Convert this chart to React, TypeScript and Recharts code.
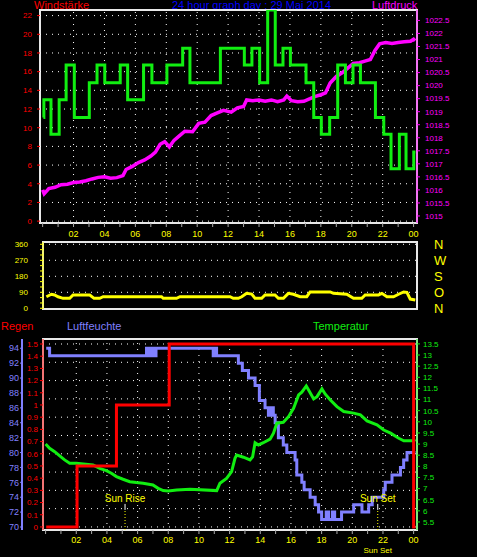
import React from "react";
import { ComposedChart, Line, XAxis, YAxis, ReferenceLine, ReferenceArea } from "recharts";

// hours of the day, labels on even hours only
const hourTicks = [0, 1, 2, 3, 4, 5, 6, 7, 8, 9, 10, 11, 12, 13, 14, 15, 16, 17, 18, 19, 20, 21, 22, 23, 24];
const gridHours = [2, 4, 6, 8, 10, 12, 14, 16, 18, 20, 22];

// Windstärke (green step line)
const windTimes = [0.05, 0.08, 0.54, 1.07, 1.52, 2.05, 3.02, 3.52, 4.02, 5.02, 5.5, 6.53, 7.07, 8.04, 9.06, 9.53, 11.5, 13.05, 13.54, 14.04, 14.56, 15.05, 15.55, 16.03, 17.04, 17.54, 18.03, 18.57, 19.09, 19.59, 20.08, 20.56, 21.53, 22.07, 22.54, 23.08, 23.51, 24.01, 24.12];
const windSpeed = [11.1, 13.0, 9.3, 13.0, 16.7, 11.1, 14.8, 16.7, 14.8, 16.7, 13.0, 16.7, 14.8, 16.7, 18.5, 14.8, 18.5, 16.7, 18.5, 14.8, 22.6, 16.7, 18.5, 16.7, 14.8, 11.1, 9.3, 11.1, 16.7, 14.8, 16.7, 14.8, 11.1, 9.3, 5.6, 9.3, 5.6, 7.4, 7.4];
const windTicks = [0, 2, 4, 6, 8, 10, 12, 14, 16, 18, 20, 22];

// Luftdruck (magenta)
const pressureTimes = [0.0, 0.1, 0.4, 0.8, 1.2, 1.6, 2.0, 2.4, 2.8, 3.2, 3.6, 4.0, 4.4, 4.8, 5.2, 5.4, 5.8, 6.2, 6.6, 7.0, 7.3, 7.6, 7.9, 8.2, 8.5, 8.9, 9.2, 9.7, 10.1, 10.5, 10.9, 11.3, 11.7, 12.2, 12.6, 13.0, 13.2, 13.6, 14.0, 14.4, 14.8, 15.2, 15.6, 15.8, 16.1, 16.5, 16.9, 17.3, 17.6, 18.0, 18.3, 18.6, 19.0, 19.4, 19.7, 20.1, 20.5, 20.9, 21.2, 21.5, 21.8, 22.2, 22.6, 23.0, 23.4, 23.8, 24.0, 24.1];
const pressure = [1016.0, 1015.85, 1016.05, 1016.1, 1016.2, 1016.22, 1016.28, 1016.3, 1016.35, 1016.42, 1016.48, 1016.5, 1016.45, 1016.47, 1016.55, 1016.78, 1016.9, 1017.05, 1017.15, 1017.3, 1017.45, 1017.75, 1017.85, 1017.65, 1017.9, 1018.1, 1018.25, 1018.23, 1018.55, 1018.6, 1018.85, 1018.95, 1019.05, 1018.98, 1019.15, 1019.2, 1019.45, 1019.42, 1019.45, 1019.4, 1019.45, 1019.38, 1019.45, 1019.6, 1019.42, 1019.38, 1019.4, 1019.5, 1019.58, 1019.65, 1019.72, 1020.1, 1020.35, 1020.5, 1020.65, 1020.85, 1020.88, 1020.95, 1021.0, 1021.35, 1021.6, 1021.65, 1021.62, 1021.65, 1021.68, 1021.7, 1021.78, 1021.72];
const pressureTicks = [1015, 1015.5, 1016, 1016.5, 1017, 1017.5, 1018, 1018.5, 1019, 1019.5, 1020, 1020.5, 1021, 1021.5, 1022, 1022.5];

// Windrichtung (yellow)
const dirTimes = [0.05, 0.38, 0.59, 0.81, 1.14, 1.57, 1.79, 2.88, 3.16, 3.53, 3.75, 7.56, 7.67, 8.54, 8.76, 12.03, 12.24, 12.57, 12.79, 13.11, 13.44, 13.66, 14.09, 14.31, 14.96, 15.18, 15.51, 15.83, 16.16, 16.6, 17.03, 17.25, 18.56, 18.77, 19.64, 20.08, 20.62, 20.84, 21.71, 21.93, 22.26, 22.69, 23.02, 23.35, 23.56, 23.78, 24.11];
const direction = [65, 79, 75, 65, 56, 56, 75, 75, 56, 56, 65, 65, 56, 56, 65, 65, 56, 56, 65, 84, 80, 56, 56, 75, 75, 56, 56, 84, 79, 65, 65, 92, 92, 84, 79, 56, 56, 75, 75, 84, 65, 65, 79, 92, 90, 52, 47];
const dirTicks = [0, 90, 180, 270, 360];
const dirMinorTicks = [0, 30, 60, 90, 120, 150, 180, 210, 240, 270, 300, 330, 360];
const compass = ["N", "O", "S", "W", "N"];

// Luftfeuchte (blue step line)
const humTimes = [0.04, 0.26, 6.58, 6.75, 6.9, 7.05, 7.2, 7.45, 10.93, 11.05, 11.15, 12.57, 12.83, 13.23, 13.66, 13.94, 14.31, 14.53, 14.7, 14.85, 14.97, 15.18, 15.5, 15.73, 16.27, 16.38, 16.71, 16.86, 17.25, 17.58, 17.8, 18.0, 18.3, 18.45, 18.7, 18.85, 19.3, 20.09, 20.63, 21.07, 21.3, 22.05, 22.15, 22.59, 23.14, 23.35, 23.57, 24.12];
const humidity = [94, 93, 94, 93, 94, 93, 94, 94, 93, 94, 93, 92, 91, 90, 89, 87, 86, 85, 86, 85, 84, 82, 81, 80, 79, 77, 76, 75, 74, 73, 72, 71, 72, 71, 72, 71, 72, 73, 72, 73, 74, 75, 76, 77, 78, 79, 80, 80];
const humTicks = [70, 72, 74, 76, 78, 80, 82, 84, 86, 88, 90, 92, 94];

// Regen (red step line)
const rainTimes = [0.04, 2.05, 4.62, 8.06, 24.0, 24.12];
const rain = [0, 0.5, 1.0, 1.5, 0, 0];
const rainTicks = [0, 0.1, 0.2, 0.3, 0.4, 0.5, 0.6, 0.7, 0.8, 0.9, 1, 1.1, 1.2, 1.3, 1.4, 1.5];
const rainGrid = [0, 0.15, 0.3, 0.45, 0.6, 0.75, 0.9, 1.05, 1.2, 1.35, 1.5];

// Temperatur (green)
const tempTimes = [0.0, 0.26, 0.59, 0.92, 1.24, 1.57, 2.0, 3.09, 3.53, 3.96, 4.29, 4.62, 5.05, 5.49, 5.92, 6.36, 7.0, 7.34, 7.67, 8.0, 8.55, 9.41, 11.16, 11.37, 11.8, 12.13, 12.35, 12.46, 12.9, 13.33, 13.5, 13.66, 13.88, 14.2, 14.64, 14.86, 15.08, 15.5, 15.84, 16.17, 16.5, 16.71, 17.0, 17.15, 17.48, 17.7, 18.02, 18.24, 18.57, 19.0, 19.44, 20.09, 20.53, 20.96, 21.61, 22.05, 22.5, 23.03, 23.36, 24.01, 24.12];
const temperature = [9.0, 8.81, 8.66, 8.47, 8.29, 8.14, 8.14, 8.06, 7.91, 7.81, 7.69, 7.54, 7.42, 7.31, 7.27, 7.24, 7.16, 7.01, 6.91, 6.89, 6.94, 6.97, 6.91, 7.24, 7.46, 7.76, 8.36, 8.51, 8.41, 8.29, 8.43, 9.06, 8.96, 9.06, 9.22, 9.49, 9.94, 9.98, 10.23, 10.61, 11.21, 11.33, 11.61, 11.43, 11.03, 11.13, 11.48, 11.24, 10.98, 10.68, 10.46, 10.39, 10.31, 10.04, 9.86, 9.63, 9.49, 9.26, 9.15, 9.15, 9.2];
const tempTicks = [5.5, 6, 6.5, 7, 7.5, 8, 8.5, 9, 9.5, 10, 10.5, 11, 11.5, 12, 12.5, 13, 13.5];

const sunRise = 5.18;
const sunSet = 21.66;

const zip = (xs: number[], ys: number[]) => xs.map((h, i) => ({ h, v: ys[i] }));
const windData = zip(windTimes, windSpeed);
const pressureData = zip(pressureTimes, pressure);
const dirData = zip(dirTimes, direction);
const humData = zip(humTimes, humidity);
const rainData = zip(rainTimes, rain);
const tempData = zip(tempTimes, temperature);

const RED = "#ff0000";
const GREEN = "#11ee11";
const MAGENTA = "#ff00ff";
const YELLOW = "#ffff00";
const BLUE = "#8080ff";
const BORDER = "#e8e8e8";
const X_DOMAIN: [number, number] = [-0.17, 24.22];

const hourLabel = (h: number) => (h % 2 === 0 && h > 0 ? String(h % 24).padStart(2, "0") : "");
const dotted = { stroke: "#ffffff", strokeDasharray: "1 5", strokeWidth: 1 };

export default function App() {
  return (
    <div
      style={{
        position: "fixed",
        left: 0,
        top: 0,
        width: 477,
        height: 557,
        background: "#000",
        overflow: "hidden",
        fontFamily: '"Liberation Sans", Arial, sans-serif',
      }}
    >
      <div style={{ position: "absolute", left: 34, top: -1, color: RED, fontSize: 11, lineHeight: "12px" }}>Windstärke</div>
      <div style={{ position: "absolute", left: 172, top: -1, color: "#0000ff", fontSize: 11, lineHeight: "12px" }}>
        24 hour graph day : 29 Mai 2014
      </div>
      <div style={{ position: "absolute", left: 372, top: -1, color: MAGENTA, fontSize: 11, lineHeight: "12px" }}>Luftdruck</div>

      {/* wind speed + pressure */}
      <div style={{ position: "absolute", left: 0, top: 0 }}>
        <ComposedChart width={477} height={245} margin={{ top: 10, right: 0, bottom: 0, left: 0 }}>
          <XAxis
            type="number"
            dataKey="h"
            domain={X_DOMAIN}
            allowDataOverflow
            ticks={hourTicks}
            interval={0}
            tickFormatter={hourLabel}
            tick={{ fill: YELLOW, fontSize: 9 }}
            tickLine={{ stroke: "#aaaaaa" }}
            tickSize={4}
            tickMargin={4}
            axisLine={false}
            height={22}
          />
          <YAxis
            yAxisId="wind"
            orientation="left"
            width={40}
            domain={[-0.2, 22.6]}
            allowDataOverflow
            ticks={windTicks}
            interval={0}
            tick={{ fill: RED, fontSize: 8 }}
            tickLine={{ stroke: RED }}
            axisLine={false}
            tickSize={3}
            tickMargin={5}
          />
          <YAxis
            yAxisId="p"
            orientation="right"
            width={60}
            domain={[1014.73, 1022.9]}
            allowDataOverflow
            ticks={pressureTicks}
            interval={0}
            tick={{ fill: MAGENTA, fontSize: 8 }}
            tickLine={{ stroke: MAGENTA }}
            axisLine={{ stroke: MAGENTA }}
            tickSize={3}
            tickMargin={5}
          />
          {windTicks.map((v) => (
            <ReferenceLine key={"wy" + v} yAxisId="wind" y={v} {...dotted} />
          ))}
          {gridHours.map((h) => (
            <ReferenceLine key={"wx" + h} yAxisId="wind" x={h} {...dotted} />
          ))}
          <Line yAxisId="p" data={pressureData} dataKey="v" type="linear" stroke={MAGENTA} strokeWidth={3.5} dot={false} isAnimationActive={false} />
          <Line yAxisId="wind" data={windData} dataKey="v" type="stepAfter" stroke={GREEN} strokeWidth={3} dot={false} isAnimationActive={false} />
          <ReferenceArea yAxisId="wind" x1={X_DOMAIN[0]} x2={X_DOMAIN[1]} y1={-0.2} y2={22.6} fill="none" stroke={BORDER} strokeWidth={2} ifOverflow="visible" />
        </ComposedChart>
      </div>

      {/* wind direction */}
      <div style={{ position: "absolute", left: 0, top: 236 }}>
        <ComposedChart width={477} height={80} margin={{ top: 6, right: 0, bottom: 7, left: 0 }}>
          <XAxis type="number" dataKey="h" domain={X_DOMAIN} allowDataOverflow hide />
          <YAxis
            yAxisId="dir"
            orientation="left"
            width={43}
            domain={[-4, 373]}
            allowDataOverflow
            ticks={dirMinorTicks}
            interval={0}
            tickFormatter={(v: number) => (v % 90 === 0 ? String(v) : "")}
            tick={{ fill: YELLOW, fontSize: 8 }}
            tickLine={{ stroke: YELLOW }}
            axisLine={{ stroke: YELLOW }}
            tickSize={3}
            tickMargin={12}
          />
          <YAxis
            yAxisId="compass"
            orientation="right"
            width={60}
            domain={[-4, 373]}
            allowDataOverflow
            ticks={dirTicks}
            interval={0}
            tickFormatter={(v: number) => compass[dirTicks.indexOf(v)]}
            tick={{ fill: YELLOW, fontSize: 13 }}
            tickLine={false}
            axisLine={false}
            tickMargin={11}
          />
          {dirTicks.slice(1).map((v) => (
            <ReferenceLine key={"dy" + v} yAxisId="dir" y={v} {...dotted} />
          ))}
          <Line yAxisId="dir" data={dirData} dataKey="v" type="linear" stroke={YELLOW} strokeWidth={3} dot={false} isAnimationActive={false} />
          <ReferenceArea yAxisId="dir" x1={X_DOMAIN[0]} x2={X_DOMAIN[1]} y1={-4} y2={373} fill="none" stroke={BORDER} strokeWidth={2} ifOverflow="visible" />
        </ComposedChart>
      </div>

      <div style={{ position: "absolute", left: 1, top: 320, color: RED, fontSize: 11, lineHeight: "12px" }}>Regen</div>
      <div style={{ position: "absolute", left: 67, top: 320, color: BLUE, fontSize: 11, lineHeight: "12px" }}>Luftfeuchte</div>
      <div style={{ position: "absolute", left: 313, top: 320, color: GREEN, fontSize: 11, lineHeight: "12px" }}>Temperatur</div>

      {/* rain, humidity, temperature */}
      <div style={{ position: "absolute", left: 0, top: 330 }}>
        <ComposedChart width={477} height={227} margin={{ top: 9, right: 0, bottom: 0, left: 0 }}>
          <XAxis
            type="number"
            dataKey="h"
            domain={X_DOMAIN}
            allowDataOverflow
            ticks={hourTicks}
            interval={0}
            tickFormatter={hourLabel}
            tick={{ fill: YELLOW, fontSize: 9 }}
            tickLine={{ stroke: "#aaaaaa" }}
            tickSize={4}
            tickMargin={3}
            axisLine={false}
            height={27}
          />
          <YAxis
            yAxisId="b_hum"
            orientation="left"
            width={22}
            domain={[69.6, 95.24]}
            allowDataOverflow
            ticks={humTicks}
            interval={0}
            tick={{ fill: BLUE, fontSize: 9 }}
            tickLine={{ stroke: BLUE }}
            axisLine={{ stroke: BLUE, strokeWidth: 2 }}
            tickSize={2}
            tickMargin={1}
          />
          <YAxis
            yAxisId="a_rain"
            orientation="left"
            width={21}
            domain={[-0.025, 1.541]}
            allowDataOverflow
            ticks={rainTicks}
            interval={0}
            tick={{ fill: RED, fontSize: 8 }}
            tickLine={{ stroke: RED }}
            axisLine={{ stroke: RED }}
            tickSize={3}
            tickMargin={2}
          />
          <YAxis
            yAxisId="t"
            orientation="right"
            width={60}
            domain={[5.14, 13.72]}
            allowDataOverflow
            ticks={tempTicks}
            interval={0}
            tick={{ fill: GREEN, fontSize: 8 }}
            tickLine={{ stroke: GREEN }}
            axisLine={{ stroke: GREEN }}
            tickSize={3}
            tickMargin={3}
          />
          {rainGrid.map((v) => (
            <ReferenceLine key={"ry" + v} yAxisId="a_rain" y={v} {...dotted} />
          ))}
          {gridHours.map((h) => (
            <ReferenceLine key={"rx" + h} yAxisId="a_rain" x={h} {...dotted} />
          ))}
          {[sunRise, sunSet].map((h, i) => (
            <ReferenceLine
              key={"sun" + i}
              yAxisId="b_hum"
              segment={[{ x: h, y: 69.6 }, { x: h, y: 72.3 }]}
              stroke={YELLOW}
              strokeDasharray="1 2"
              ifOverflow="visible"
            />
          ))}
          {[sunRise, sunSet].map((h, i) => (
            <ReferenceLine
              key={"sunw" + i}
              yAxisId="b_hum"
              segment={[{ x: h, y: 72.3 }, { x: h, y: 73.1 }]}
              stroke="#ffffff"
              ifOverflow="visible"
              label={{ value: i === 0 ? "Sun Rise" : "Sun Set", position: "top", offset: 2, fill: YELLOW, fontSize: 10 }}
            />
          ))}
          <ReferenceLine
            yAxisId="b_hum"
            segment={[{ x: sunSet, y: 69.6 }, { x: sunSet, y: 69.61 }]}
            stroke="none"
            ifOverflow="visible"
            label={{ value: "Sun Set", position: "bottom", offset: 17, fill: YELLOW, fontSize: 8 }}
          />
          <Line yAxisId="b_hum" data={humData} dataKey="v" type="stepAfter" stroke={BLUE} strokeWidth={3} dot={false} isAnimationActive={false} />
          <Line yAxisId="t" data={tempData} dataKey="v" type="linear" stroke={GREEN} strokeWidth={3} dot={false} isAnimationActive={false} />
          <Line yAxisId="a_rain" data={rainData} dataKey="v" type="stepAfter" stroke={RED} strokeWidth={3} dot={false} isAnimationActive={false} />
          <ReferenceArea yAxisId="a_rain" x1={X_DOMAIN[0]} x2={X_DOMAIN[1]} y1={-0.025} y2={1.541} fill="none" stroke={BORDER} strokeWidth={2} ifOverflow="visible" />
        </ComposedChart>
      </div>
    </div>
  );
}
